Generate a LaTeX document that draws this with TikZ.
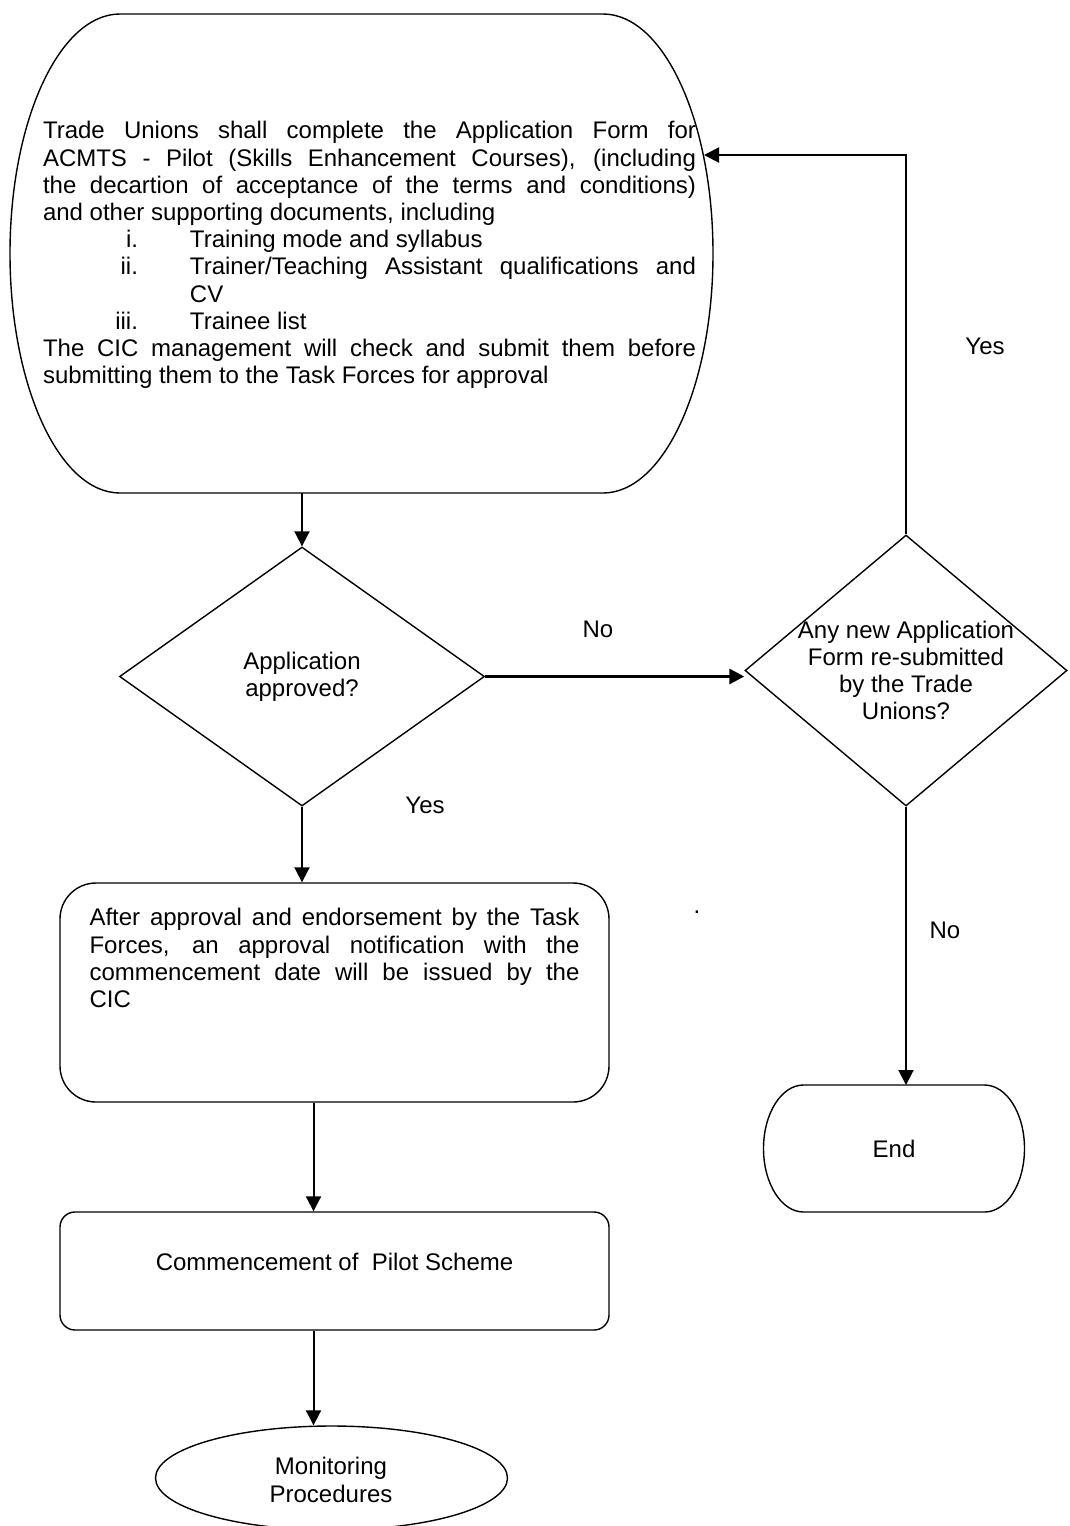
\documentclass[tikz,border=0pt]{standalone}
\usepackage{fontspec}
\setmainfont{Liberation Sans}
\usetikzlibrary{arrows.meta,shapes.geometric}

% terminator outline: centre x, centre y, width, height, end radius
\newcommand{\termshape}[5]{%
  \draw[line width=.7pt] ({#1-#3/2+#5},{#2+#4/2}) -- ({#1+#3/2-#5},{#2+#4/2})
    arc[start angle=90, end angle=-90, x radius=#5, y radius=#4/2]
    -- ({#1-#3/2+#5},{#2-#4/2})
    arc[start angle=270, end angle=90, x radius=#5, y radius=#4/2] -- cycle;}
\newcommand{\listitem}[2]{{\leftskip=73.5pt\noindent\llap{#1\hspace{26pt}}#2\par}}

\begin{document}
\begin{tikzpicture}[x=0.5pt,y=0.5pt,>={Triangle[length=7.5pt,width=7.5pt]},
    font=\fontsize{12}{13.6}\selectfont,
    flow/.style={->,line width=1pt},
    decision/.style={diamond,draw,line width=.7pt,inner sep=0pt},
    procbox/.style={rectangle,draw,line width=.7pt,minimum width=274.5pt}]
    \useasboundingbox (0,0) rectangle (1070,-1526);

    % first step
    \termshape{361.5}{-253.5}{703}{479}{110}
    \node[text width=326.5pt,align=justify,inner sep=0pt] (apply) at (369.5,-255)
      {Trade Unions shall complete the Application Form for\linebreak
       ACMTS - Pilot (Skills Enhancement Courses), (including\linebreak
       the decartion of acceptance of the terms and conditions)\linebreak
       and other supporting documents, including\par
       \listitem{i.}{Training mode and syllabus}
       \listitem{ii.}{Trainer/Teaching Assistant qualifications and\linebreak CV}
       \listitem{iii.}{Trainee list}
       \noindent The CIC management will check and submit them before\linebreak
       submitting them to the Task Forces for approval};
    \coordinate (applybot) at (302,-493);
    \coordinate (applyin) at (704,-155);

    % decisions
    \node[decision,minimum width=182.5pt,minimum height=129.5pt] (ok) at (302,-676.5) {};
    \node[align=center] (oktext) at (ok) {Application\\approved?};
    \node[decision,minimum width=161pt,minimum height=135.5pt] (resub) at (906,-670.5) {};
    \node[align=center] (resubtext) at (resub) {Any new Application\\Form re-submitted\\by the Trade\\Unions?};

    % end
    \termshape{894}{-1148.5}{261}{127}{40}
    \node (end) at (894,-1148.5) {End};
    \coordinate (endtop) at (906,-1085);

    % process boxes
    \node[procbox,rounded corners=18pt,minimum height=109.5pt,inner sep=0pt] (issue) at (334.5,-992.5)
      {\parbox[c][84pt][t]{245pt}{After approval and endorsement by the Task\linebreak
       Forces, an approval notification with the\linebreak
       commencement date will be issued by the\linebreak CIC}};
    \node[procbox,rounded corners=7.5pt,minimum height=59pt,text height=8.5pt,text depth=9.5pt] (start) at (334.5,-1271)
      {Commencement of\ \ Pilot Scheme};
    \node[ellipse,draw,line width=.7pt,minimum width=176pt,minimum height=52pt] (monitor) at (331.5,-1478)
      {};
    \node[align=center] (monitortext) at (331,-1480) {Monitoring\\Procedures};

    % connectors
    \coordinate (issueout) at ([xshift=-10.5pt]issue.south);
    \coordinate (startin) at ([xshift=-10.5pt]start.north);
    \coordinate (startout) at ([xshift=-10.5pt]start.south);
    \draw[flow] (applybot) -- (ok.north);
    \draw[->,line width=1.5pt] (ok.east) -- (ok.east -| resub.west);
    \draw[flow] (resub.north) |- (applyin);
    \draw[flow] (resub.south) -- (endtop);
    \draw[flow] (ok.south) -- (ok.south |- issue.north);
    \draw[flow] (issueout) -- (startin);
    \draw[flow] (startout) -- (startout |- monitor.north);

    % labels
    \node (lno) at (598,-629) {No};
    \node (lyes) at (425,-805) {Yes};
    \node (ryes) at (985,-346) {Yes};
    \node (rno) at (945,-930) {No};
    \node[inner sep=0pt] (dot) at (697,-912) {.};
\end{tikzpicture}
\end{document}
